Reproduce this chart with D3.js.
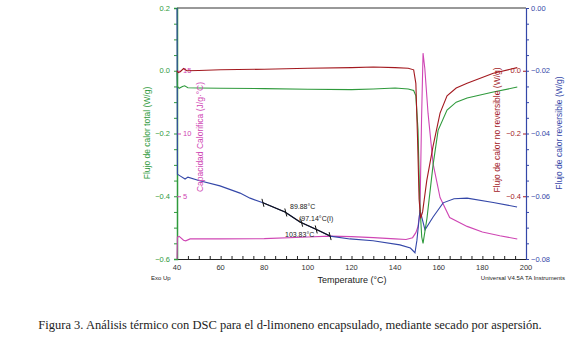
<!DOCTYPE html>
<html lang="es">
<head>
  <meta charset="UTF-8">
  <script src="https://cdn.jsdelivr.net/npm/d3@7/dist/d3.min.js"></script>
  <title>DSC d-limoneno</title>
  <style>
    * { margin: 0; padding: 0; }
    body { background: #fff; }
    svg { display: block; font-family: "Liberation Sans", Arial, sans-serif; }
  </style>
</head>
<body>
<div id="box"></div>
<script>
  // datos: [temperatura °C, valor]
  var totalFlow = [[40, 0.0], [40.2, -0.05], [41, -0.056], [42.5, -0.05], [43.5, -0.048], [45, -0.054], [50, -0.055],
    [60, -0.056], [80, -0.057], [100, -0.059], [120, -0.06], [130, -0.058], [140, -0.055], [146, -0.058], [148.5, -0.063],
    [149.5, -0.08], [150.5, -0.19], [151.3, -0.42], [152.2, -0.53], [152.8, -0.55], [154.6, -0.47], [157.4, -0.3],
    [159.7, -0.19], [163.8, -0.125], [168, -0.1], [173, -0.087], [185, -0.068], [196, -0.052]];
  var nonRevFlow = [[40, 0.0], [40.6, -0.006], [41.5, -0.003], [43, 0.007], [44.5, 0.0], [50, 0.001], [60, 0.003],
    [80, 0.005], [100, 0.008], [120, 0.01], [130, 0.012], [140, 0.01], [146, 0.008], [148.5, 0.003], [149.5, -0.04],
    [150.3, -0.22], [151, -0.41], [151.7, -0.47], [152.6, -0.45], [154.5, -0.35], [157.4, -0.24], [160.6, -0.135],
    [163.8, -0.08], [168, -0.055], [173, -0.04], [185, -0.008], [196, 0.01]];
  var heatCap = [[40, 0], [40.2, 1.75], [41, 1.8], [43, 1.5], [44, 1.45], [46, 1.6], [60, 1.6], [80, 1.62], [100, 1.75],
    [110, 1.82], [120, 1.78], [130, 1.7], [140, 1.6], [145, 1.55], [148, 1.7], [149.5, 2.1], [150.5, 2.6], [151.4, 3.8],
    [152.1, 11], [152.8, 16.4], [153.6, 15.2], [155.1, 11.6], [157.4, 7.6], [160.6, 4.9], [165, 3.3], [173, 2.6],
    [180, 2.15], [188, 1.85], [196, 1.6]];
  var revFlow = [[40, 0.0], [40.2, -0.053], [41.4, -0.0535], [43.7, -0.0545], [45, -0.0539], [50, -0.055],
    [59.7, -0.0567], [68.9, -0.059], [73.5, -0.0606], [79.4, -0.0621], [89.5, -0.065], [96.4, -0.0682],
    [104.2, -0.0707], [110.2, -0.0727], [119.3, -0.0736], [129.9, -0.0742], [142.2, -0.0755], [147, -0.0765],
    [149.1, -0.078], [150, -0.074], [151.4, -0.0644], [153.7, -0.0707], [157.4, -0.0666], [162, -0.0621],
    [167, -0.0608], [173, -0.0606], [185, -0.062], [195.9, -0.0634]];
  // analisis de transicion vitrea
  var glassRange = [79.4, 110.2];
  var glassMarks = [79.4, 89.88, 97.14, 103.83, 110.2];
  var glassLabels = ["89.88°C", "(97.14°C(I)", "103.83°C"];

  var xTicks = [40, 60, 80, 100, 120, 140, 160, 180, 200];
  var leftTicks = [0.2, 0.0, -0.2, -0.4, -0.6];
  var capTicks = [15, 10, 5];
  var redTicks = [0.0, -0.2, -0.4];
  var blueTicks = [0.00, -0.02, -0.04, -0.06, -0.08];

  var cGreen = '#2f9a3c', cRed = '#a3191f', cPink = '#cf46b4', cBlue = '#3447a8';

  var W = 580, H = 345;
  var svg = d3.select('#box').append('svg').attr('width', W).attr('height', H);

  var x = d3.scaleLinear().domain([40, 200]).range([177, 526]);
  var yL = d3.scaleLinear().domain([-0.6, 0.2]).range([259, 8]);
  var yP = d3.scaleLinear().domain([0, 20]).range([259, 8]);
  var yB = d3.scaleLinear().domain([-0.08, 0]).range([259, 8]);

  // borde superior
  svg.append('line').attr('x1', x(40)).attr('x2', x(200)).attr('y1', yL(0.2)).attr('y2', yL(0.2))
    .attr('stroke', '#333').attr('stroke-width', 1);

  // eje x
  var gx = svg.append('g').attr('transform', 'translate(0,259)')
    .call(d3.axisBottom(x).tickValues(d3.range(40, 201, 5)).tickSize(-3).tickFormat(''));
  gx.select('.domain').attr('stroke', '#222');
  gx.selectAll('.tick line').attr('stroke', '#222');
  svg.append('g').selectAll('text').data(xTicks).enter().append('text')
    .attr('x', function (d) { return x(d); }).attr('y', 270)
    .attr('text-anchor', 'middle').attr('font-size', 7.5).attr('fill', '#333')
    .text(function (d) { return d; });

  // eje izquierdo (flujo total)
  var gl = svg.append('g').attr('transform', 'translate(177,0)')
    .call(d3.axisLeft(yL).tickValues(d3.range(-0.6, 0.201, 0.05)).tickSize(3).tickFormat(''));
  gl.select('.domain').attr('stroke', cGreen).attr('stroke-width', 1.5);
  gl.selectAll('.tick line').attr('stroke', cGreen);
  svg.append('g').selectAll('text').data(leftTicks).enter().append('text')
    .attr('x', 170).attr('y', function (d) { return yL(d) + 2.5; })
    .attr('text-anchor', 'end').attr('font-size', 7.5).attr('fill', cGreen)
    .text(function (d) { return d3.format('.1f')(d); });

  // eje de capacidad calorifica
  var gp = svg.append('g').attr('transform', 'translate(177,0)')
    .call(d3.axisRight(yP).tickValues(capTicks).tickSize(4).tickFormat(''));
  gp.select('.domain').remove();
  gp.selectAll('.tick line').attr('stroke', cPink);
  svg.append('g').selectAll('text').data(capTicks).enter().append('text')
    .attr('x', 183).attr('y', function (d) { return yP(d) + 2.5; })
    .attr('font-size', 7.5).attr('fill', cPink)
    .text(function (d) { return d; });

  // eje derecho (flujo no reversible)
  var gr = svg.append('g').attr('transform', 'translate(526,0)')
    .call(d3.axisLeft(yL).tickValues(redTicks).tickSize(3).tickFormat(''));
  gr.select('.domain').remove();
  gr.selectAll('.tick line').attr('stroke', cRed);
  svg.append('g').selectAll('text').data(redTicks).enter().append('text')
    .attr('x', 521).attr('y', function (d) { return yL(d) + 2.5; })
    .attr('text-anchor', 'end').attr('font-size', 7.5).attr('fill', cRed)
    .text(function (d) { return d3.format('.1f')(d); });

  // eje derecho (flujo reversible)
  var gb = svg.append('g').attr('transform', 'translate(526,0)')
    .call(d3.axisRight(yB).tickValues(d3.range(-0.08, 0.0001, 0.005)).tickSize(3).tickFormat(''));
  gb.select('.domain').attr('stroke', cBlue).attr('stroke-width', 1.2);
  gb.selectAll('.tick line').attr('stroke', cBlue);
  svg.append('g').selectAll('text').data(blueTicks).enter().append('text')
    .attr('x', 531).attr('y', function (d) { return yB(d) + 2.5; })
    .attr('font-size', 7.5).attr('fill', cBlue)
    .text(function (d) { return d3.format('.2f')(d); });

  // curvas
  function curve(data, yScale, color) {
    svg.append('path').datum(data)
      .attr('d', d3.line().x(function (d) { return x(d[0]); }).y(function (d) { return yScale(d[1]); }))
      .attr('fill', 'none').attr('stroke', color).attr('stroke-width', 1.1);
  }
  curve(heatCap, yP, cPink);
  curve(revFlow, yB, cBlue);
  curve(totalFlow, yL, cGreen);
  curve(nonRevFlow, yL, cRed);

  // tramo de transicion vitrea en negro
  var seg = revFlow.filter(function (d) { return d[0] >= glassRange[0] && d[0] <= glassRange[1]; });
  curve(seg, yB, '#111');
  var interp = function (t) {
    for (var i = 1; i < revFlow.length; i++) {
      if (revFlow[i][0] >= t) {
        var a = revFlow[i - 1], b = revFlow[i];
        return a[1] + (b[1] - a[1]) * (t - a[0]) / (b[0] - a[0]);
      }
    }
  };
  svg.append('g').selectAll('line').data(glassMarks).enter().append('line')
    .attr('x1', function (d) { return x(d) - 1; }).attr('x2', function (d) { return x(d) + 1; })
    .attr('y1', function (d) { return yB(interp(d)) - 4; }).attr('y2', function (d) { return yB(interp(d)) + 4; })
    .attr('stroke', '#111').attr('stroke-width', 1);
  var labelPos = [[290, 209], [299, 221], [285, 237]];
  svg.append('g').selectAll('text').data(glassLabels).enter().append('text')
    .attr('x', function (d, i) { return labelPos[i][0]; })
    .attr('y', function (d, i) { return labelPos[i][1]; })
    .attr('font-size', 7).attr('fill', '#222')
    .text(function (d) { return d; });

  // titulos de ejes
  function vTitle(txt, cx, cy, color) {
    svg.append('text').attr('transform', 'translate(' + cx + ',' + cy + ') rotate(-90)')
      .attr('text-anchor', 'middle').attr('font-size', 8.5).attr('fill', color).text(txt);
  }
  vTitle('Flujo de calor total (W/g)', 150, 133, cGreen);
  vTitle('Capacidad Calorifica (J/g·°C)', 203, 137, cPink);
  vTitle('Flujo de calor no reversible (W/g)', 500, 130, cRed);
  vTitle('Flujo de calor reversible (W/g)', 562, 133, cBlue);

  svg.append('text').attr('x', 352).attr('y', 283).attr('text-anchor', 'middle')
    .attr('font-size', 9).attr('fill', '#222').text('Temperature (°C)');
  svg.append('text').attr('x', 151).attr('y', 280).attr('font-size', 6).attr('fill', '#222').text('Exo Up');
  svg.append('text').attr('x', 565).attr('y', 280).attr('text-anchor', 'end')
    .attr('font-size', 6).attr('fill', '#222').text('Universal V4.5A TA Instruments');

  svg.append('text').attr('x', 290).attr('y', 329).attr('text-anchor', 'middle')
    .attr('font-family', '"Liberation Serif", "DejaVu Serif", serif')
    .attr('font-size', 12.5).attr('fill', '#222')
    .text('Figura 3. Análisis térmico con DSC para el d-limoneno encapsulado, mediante secado por aspersión.');
</script>
</body>
</html>
